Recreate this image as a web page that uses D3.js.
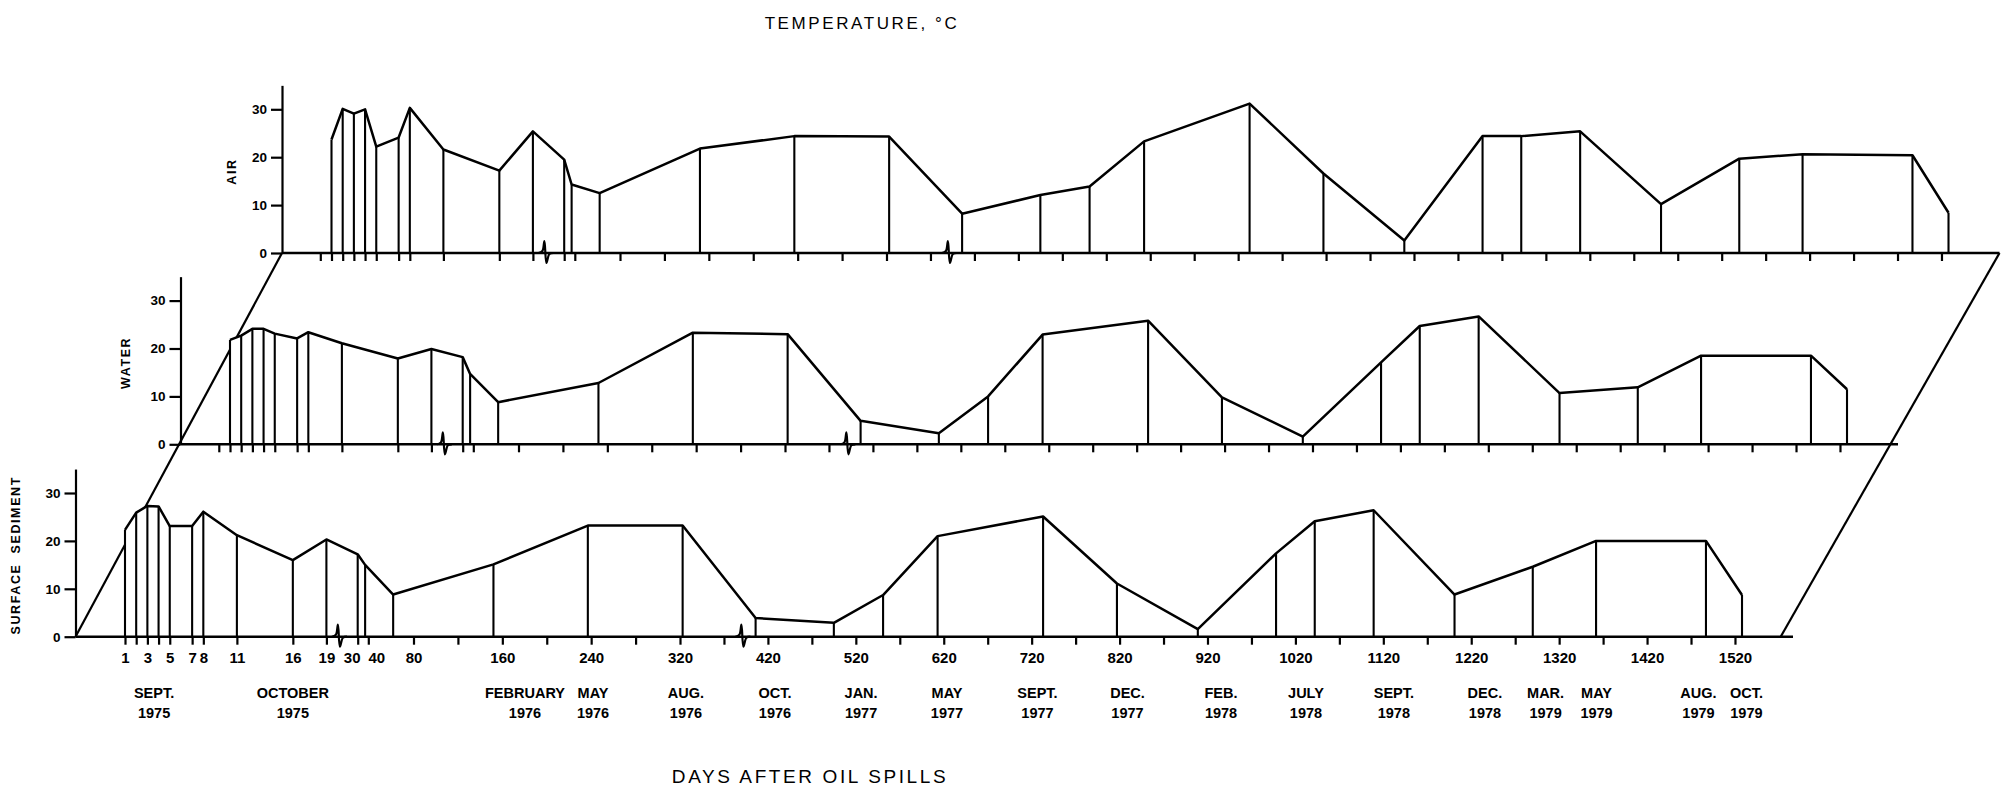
<!DOCTYPE html>
<html>
<head>
<meta charset="utf-8">
<script src="https://cdn.jsdelivr.net/npm/d3@7/dist/d3.min.js"></script>
<style>
  html, body { margin: 0; padding: 0; background: #fff; }
  svg { display: block; }
  text { font-family: "Liberation Sans", Arial, sans-serif; fill: #000; }
</style>
</head>
<body>
<svg id="chart" width="2009" height="788"></svg>
<script>
// Sampling days (days after the oil spills)
const sampleDays = [1, 2, 3, 4, 5, 7, 8, 11, 16, 19, 30, 37, 62,
  152, 237, 323, 406, 495, 551, 613, 733, 817, 909, 998, 1042, 1109, 1201, 1290, 1362, 1487, 1528];

// Temperatures, °C
const sedimentTemp = [22.3, 25.9, 27.3, 27.2, 23.1, 23.1, 26.1, 21.2, 16.0, 20.3, 17.2, 15.0, 8.8,
  15.1, 23.2, 23.2, 3.9, 2.9, 8.7, 21.0, 25.1, 11.1, 1.6, 17.4, 24.1, 26.4, 8.8, 14.6, 20.0, 20.0, 8.7];
const waterTemp = [21.8, 22.7, 24.1, 24.1, 23.1, 22.1, 23.4, 21.1, 17.9, 19.9, 18.2, 14.7, 8.8,
  12.8, 23.3, 23.0, 4.9, 2.3, 10.0, 22.9, 25.8, 9.8, 1.6, 17.1, 24.7, 26.7, 10.7, 11.9, 18.5, 18.5, 11.5];
const airTemp = [23.7, 30.1, 29.1, 30.0, 22.2, 24.1, 30.3, 21.6, 17.2, 25.4, 19.5, 14.3, 12.5,
  21.8, 24.4, 24.3, 8.2, 12.1, 13.9, 23.3, 31.2, 16.6, 2.6, 24.4, 24.4, 25.4, 10.2, 19.7, 20.6, 20.4, 8.4];

// Panels, front (bottom) to back (top)
const panelNames = ["SURFACE SEDIMENT", "WATER", "AIR"];
const panelSeries = [sedimentTemp, waterTemp, airTemp];

// Axis ticks
const tickDays = [1, 2, 3, 4, 5, 7, 8, 11, 16, 19, 30, 40, 80, 120, 160, 200, 240, 280, 320,
  370, 420, 470, 520, 570, 620, 670, 720, 770, 820, 870, 920, 970, 1020, 1070, 1120, 1170,
  1220, 1270, 1320, 1370, 1420, 1470, 1520];
const labelledDays = [1, 3, 5, 7, 8, 11, 16, 19, 30, 40, 80, 160, 240, 320, 420, 520, 620, 720,
  820, 920, 1020, 1120, 1220, 1320, 1420, 1520];
const rearTickDays = [0];
const yTicks = [0, 10, 20, 30];
const breakDays = [23.4, 391];

// Calendar labels under the time axis
const monthNames = ["SEPT.", "OCTOBER", "FEBRUARY", "MAY", "AUG.", "OCT.", "JAN.", "MAY", "SEPT.",
  "DEC.", "FEB.", "JULY", "SEPT.", "DEC.", "MAR.", "MAY", "AUG.", "OCT."];
const monthYears = ["1975", "1975", "1976", "1976", "1976", "1976", "1977", "1977", "1977",
  "1977", "1978", "1978", "1978", "1978", "1979", "1979", "1979", "1979"];
const monthDays = [3.6, 16, 180.4, 241.7, 326.8, 428, 526, 623.7, 726.6,
  829, 935.4, 1032, 1132, 1235.6, 1304.6, 1362.5, 1478.5, 1533];

// ---- layout ----
const svg = d3.select("#chart");
const originX = 75.5;          // y-axis of the front panel
const endDay = 1586;           // end of each time axis
const frameStartDay = 1572;    // where the right edge of the frame leaves the front axis
const shiftX = [0, 105, 206.5];
const shiftY = [0, -192.4, -383.7];
// the crowded "30" and "40" labels sit spread apart around their ticks
const labelNudge = { 30: -6, 40: 8 };

// Broken time scale: day-by-day at first, then compressed
const x = d3.scaleLinear()
  .domain([0, 1, 19, 30, 40, 80, 320, endDay])
  .range([113.8, 125, 326.4, 357.7, 368.3, 413.5, 680, 1793]);
const y = d3.scaleLinear().domain([0, 35]).range([636.7, 636.7 - 35 * 4.79]);

const ink = "#000";

// Frame edges joining the three panels
const frame = svg.append("g").attr("fill", "none").attr("stroke", ink).attr("stroke-width", 2.2);
frame.append("line")
  .attr("x1", originX).attr("y1", y(0))
  .attr("x2", originX + shiftX[2]).attr("y2", y(0) + shiftY[2]);
frame.append("line")
  .attr("x1", x(frameStartDay)).attr("y1", y(0))
  .attr("x2", x(endDay) + shiftX[2]).attr("y2", y(0) + shiftY[2]);

const labelGap = [60, 55, 50];

panelSeries.forEach((series, i) => {
  const g = svg.append("g").attr("transform", `translate(${shiftX[i]},${shiftY[i]})`);
  const pts = sampleDays.map((d, k) => ({ day: d, v: series[k] }));

  // opaque face under the curve
  g.append("path")
    .datum(pts)
    .attr("fill", "#fff")
    .attr("d", d3.area().x(p => x(p.day)).y0(y(0)).y1(p => y(p.v)));

  // drop lines
  g.append("g").selectAll("line").data(pts).join("line")
    .attr("x1", p => x(p.day)).attr("x2", p => x(p.day))
    .attr("y1", y(0)).attr("y2", p => y(p.v))
    .attr("stroke", ink).attr("stroke-width", 2.1);

  // temperature trace
  g.append("path")
    .datum(pts)
    .attr("fill", "none").attr("stroke", ink).attr("stroke-width", 2.5)
    .attr("stroke-linejoin", "round")
    .attr("d", d3.line().x(p => x(p.day)).y(p => y(p.v)));

  // time axis
  const ticks = i === 0 ? tickDays : rearTickDays.concat(tickDays);
  const xAxis = d3.axisBottom(x).tickValues(ticks).tickSize(8).tickSizeOuter(0).tickPadding(8)
    .tickFormat(d => (i === 0 && labelledDays.includes(d)) ? d : "");
  const ax = g.append("g").attr("transform", `translate(0,${y(0)})`).call(xAxis);
  ax.select(".domain").remove();
  ax.selectAll(".tick line").attr("stroke", ink).attr("stroke-width", 2.2);
  ax.selectAll(".tick text")
    .attr("dx", d => labelNudge[d] || 0)
    .style("font-family", '"Liberation Sans", Arial, sans-serif')
    .style("font-size", "15px").style("font-weight", "bold").attr("fill", ink);

  g.append("line")
    .attr("x1", originX).attr("x2", x(endDay))
    .attr("y1", y(0)).attr("y2", y(0))
    .attr("stroke", ink).attr("stroke-width", 2.6);

  // axis break marks
  const squiggle = d3.line().curve(d3.curveCatmullRom);
  breakDays.forEach(bd => {
    const bx = x(bd), by = y(0);
    g.append("path")
      .attr("d", squiggle([[bx - 7, by], [bx - 3, by - 2], [bx - 1, by - 12], [bx + 1, by + 10], [bx + 4, by + 1], [bx + 8, by]]))
      .attr("fill", "none").attr("stroke", ink).attr("stroke-width", 2.2);
  });

  // temperature axis
  const yAxis = d3.axisLeft(y).tickValues(yTicks).tickSize(11).tickSizeOuter(0).tickPadding(4);
  const ay = g.append("g").attr("transform", `translate(${originX},0)`).call(yAxis);
  ay.select(".domain").attr("stroke", ink).attr("stroke-width", 2.2);
  ay.selectAll(".tick line").attr("stroke", ink).attr("stroke-width", 2.2);
  ay.selectAll(".tick text")
    .style("font-family", '"Liberation Sans", Arial, sans-serif')
    .style("font-size", "13.5px").style("font-weight", "bold").attr("fill", ink);

  g.append("text")
    .attr("transform", `translate(${originX - labelGap[i]},${y(17)}) rotate(-90)`)
    .attr("text-anchor", "middle").attr("dominant-baseline", "central")
    .style("font-size", "12.5px").style("font-weight", "bold")
    .style("letter-spacing", "1.6px").style("word-spacing", "5px")
    .text(panelNames[i]);
});

// calendar labels
const cal = svg.append("g")
  .style("font-size", "14.5px").style("font-weight", "bold").attr("text-anchor", "middle");
cal.selectAll("text.m").data(monthNames).join("text").attr("class", "m")
  .attr("x", (d, k) => x(monthDays[k])).attr("y", 697.5).text(d => d);
cal.selectAll("text.yr").data(monthYears).join("text").attr("class", "yr")
  .attr("x", (d, k) => x(monthDays[k])).attr("y", 717.5).text(d => d);

// titles
svg.append("text").attr("x", 862).attr("y", 29).attr("text-anchor", "middle")
  .style("font-size", "17px").style("letter-spacing", "2.6px")
  .text("TEMPERATURE, °C");
svg.append("text").attr("x", 810).attr("y", 783).attr("text-anchor", "middle")
  .style("font-size", "19px").style("letter-spacing", "2.6px")
  .text("DAYS AFTER OIL SPILLS");
</script>
</body>
</html>
